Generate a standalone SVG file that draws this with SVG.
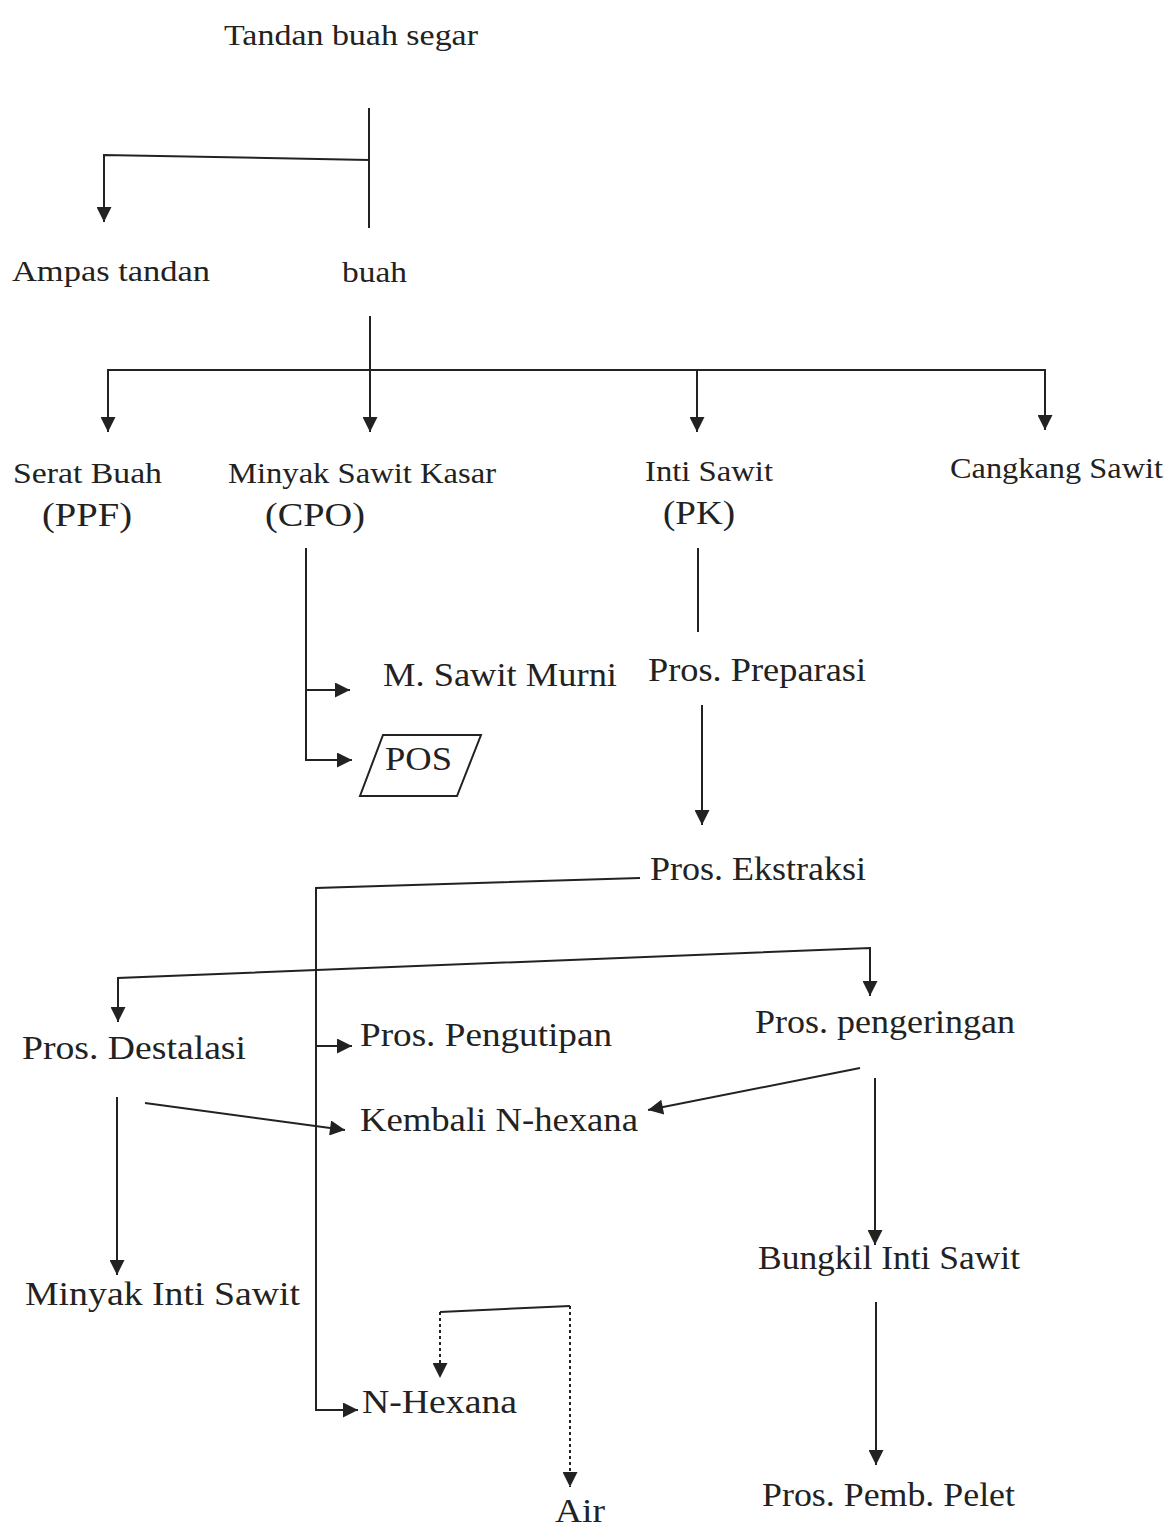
<svg xmlns="http://www.w3.org/2000/svg" width="1170" height="1526" viewBox="0 0 1170 1526">
<style>
text{font-family:"Liberation Serif","Times New Roman",serif;fill:#222;}
.s{font-size:30px;}
.m{font-size:34px;}
.c{stroke:#222;stroke-width:2;fill:none;}
.d{stroke:#222;stroke-width:2;fill:none;stroke-dasharray:3 3;}
</style>
<defs>
<marker id="ah" viewBox="0 0 10 10" refX="10" refY="5" markerWidth="19" markerHeight="15" markerUnits="userSpaceOnUse" orient="auto">
<path d="M0,0 L10,5 L0,10 z" fill="#222"/>
</marker>
</defs>
<rect width="1170" height="1526" fill="#fff"/>
<g id="connectors">
<path class="c" d="M369,108 V228"/>
<path class="c" d="M369,160 L104,155 V222" marker-end="url(#ah)"/>
<path class="c" d="M370,316 V432" marker-end="url(#ah)"/>
<path class="c" d="M108,432 V370 H1045 V430" marker-end="url(#ah)"/>
<path class="c" d="M108,370 V432" marker-end="url(#ah)"/>
<path class="c" d="M697,370 V432" marker-end="url(#ah)"/>
<path class="c" d="M306,548 V760 H352" marker-end="url(#ah)"/>
<path class="c" d="M306,690 H350" marker-end="url(#ah)"/>
<path class="c" d="M698,548 V632"/>
<path class="c" d="M702,705 V825" marker-end="url(#ah)"/>
<path class="c" d="M640,878 L316,888 V1410 H358" marker-end="url(#ah)"/>
<path class="c" d="M316,1046 H352" marker-end="url(#ah)"/>
<path class="c" d="M118,1022 V978 L870,948 V996" marker-end="url(#ah)"/>
<path class="c" d="M118,978 V1022" marker-end="url(#ah)"/>
<path class="c" d="M145,1103 L345,1130" marker-end="url(#ah)"/>
<path class="c" d="M860,1068 L648,1110" marker-end="url(#ah)"/>
<path class="c" d="M117,1097 V1275" marker-end="url(#ah)"/>
<path class="c" d="M875,1078 V1245" marker-end="url(#ah)"/>
<path class="c" d="M876,1302 V1465" marker-end="url(#ah)"/>
<path class="c" d="M440,1312 L570,1306"/>
<path class="d" d="M440,1312 V1378" marker-end="url(#ah)"/>
<path class="d" d="M570,1306 V1487" marker-end="url(#ah)"/>
</g>
<g id="n-tandan"><text class="s" x="224" y="45" textLength="254" lengthAdjust="spacingAndGlyphs">Tandan buah segar</text></g>
<g id="n-ampas"><text class="s" x="12" y="281" textLength="198" lengthAdjust="spacingAndGlyphs">Ampas tandan</text></g>
<g id="n-buah"><text class="s" x="342" y="282" textLength="65" lengthAdjust="spacingAndGlyphs">buah</text></g>
<g id="n-serat"><text class="s" x="13" y="483" textLength="149" lengthAdjust="spacingAndGlyphs">Serat Buah</text><text class="m" x="42" y="526" textLength="90" lengthAdjust="spacingAndGlyphs">(PPF)</text></g>
<g id="n-cpo"><text class="s" x="228" y="483" textLength="268" lengthAdjust="spacingAndGlyphs">Minyak Sawit Kasar</text><text class="m" x="265" y="526" textLength="100" lengthAdjust="spacingAndGlyphs">(CPO)</text></g>
<g id="n-pk"><text class="s" x="645" y="481" textLength="128" lengthAdjust="spacingAndGlyphs">Inti Sawit</text><text class="m" x="663" y="524" textLength="72" lengthAdjust="spacingAndGlyphs">(PK)</text></g>
<g id="n-cangkang"><text class="s" x="950" y="478" textLength="213" lengthAdjust="spacingAndGlyphs">Cangkang Sawit</text></g>
<g id="n-murni"><text class="m" x="383" y="686" textLength="234" lengthAdjust="spacingAndGlyphs">M. Sawit Murni</text></g>
<g id="n-pos"><path class="c" d="M383,735 H481 L457,796 H360 Z"/><text class="m" x="385" y="770" textLength="67" lengthAdjust="spacingAndGlyphs">POS</text></g>
<g id="n-preparasi"><text class="m" x="648" y="681" textLength="218" lengthAdjust="spacingAndGlyphs">Pros. Preparasi</text></g>
<g id="n-ekstraksi"><text class="m" x="650" y="880" textLength="216" lengthAdjust="spacingAndGlyphs">Pros. Ekstraksi</text></g>
<g id="n-destalasi"><text class="m" x="22" y="1059" textLength="224" lengthAdjust="spacingAndGlyphs">Pros. Destalasi</text></g>
<g id="n-pengutipan"><text class="m" x="360" y="1046" textLength="252" lengthAdjust="spacingAndGlyphs">Pros. Pengutipan</text></g>
<g id="n-pengeringan"><text class="m" x="755" y="1033" textLength="260" lengthAdjust="spacingAndGlyphs">Pros. pengeringan</text></g>
<g id="n-kembali"><text class="m" x="360" y="1131" textLength="278" lengthAdjust="spacingAndGlyphs">Kembali N-hexana</text></g>
<g id="n-minyakinti"><text class="m" x="25" y="1305" textLength="275" lengthAdjust="spacingAndGlyphs">Minyak Inti Sawit</text></g>
<g id="n-bungkil"><text class="m" x="758" y="1269" textLength="262" lengthAdjust="spacingAndGlyphs">Bungkil Inti Sawit</text></g>
<g id="n-nhexana"><text class="m" x="362" y="1413" textLength="155" lengthAdjust="spacingAndGlyphs">N-Hexana</text></g>
<g id="n-air"><text class="m" x="555" y="1522" textLength="50" lengthAdjust="spacingAndGlyphs">Air</text></g>
<g id="n-pelet"><text class="m" x="762" y="1506" textLength="253" lengthAdjust="spacingAndGlyphs">Pros. Pemb. Pelet</text></g>
</svg>
